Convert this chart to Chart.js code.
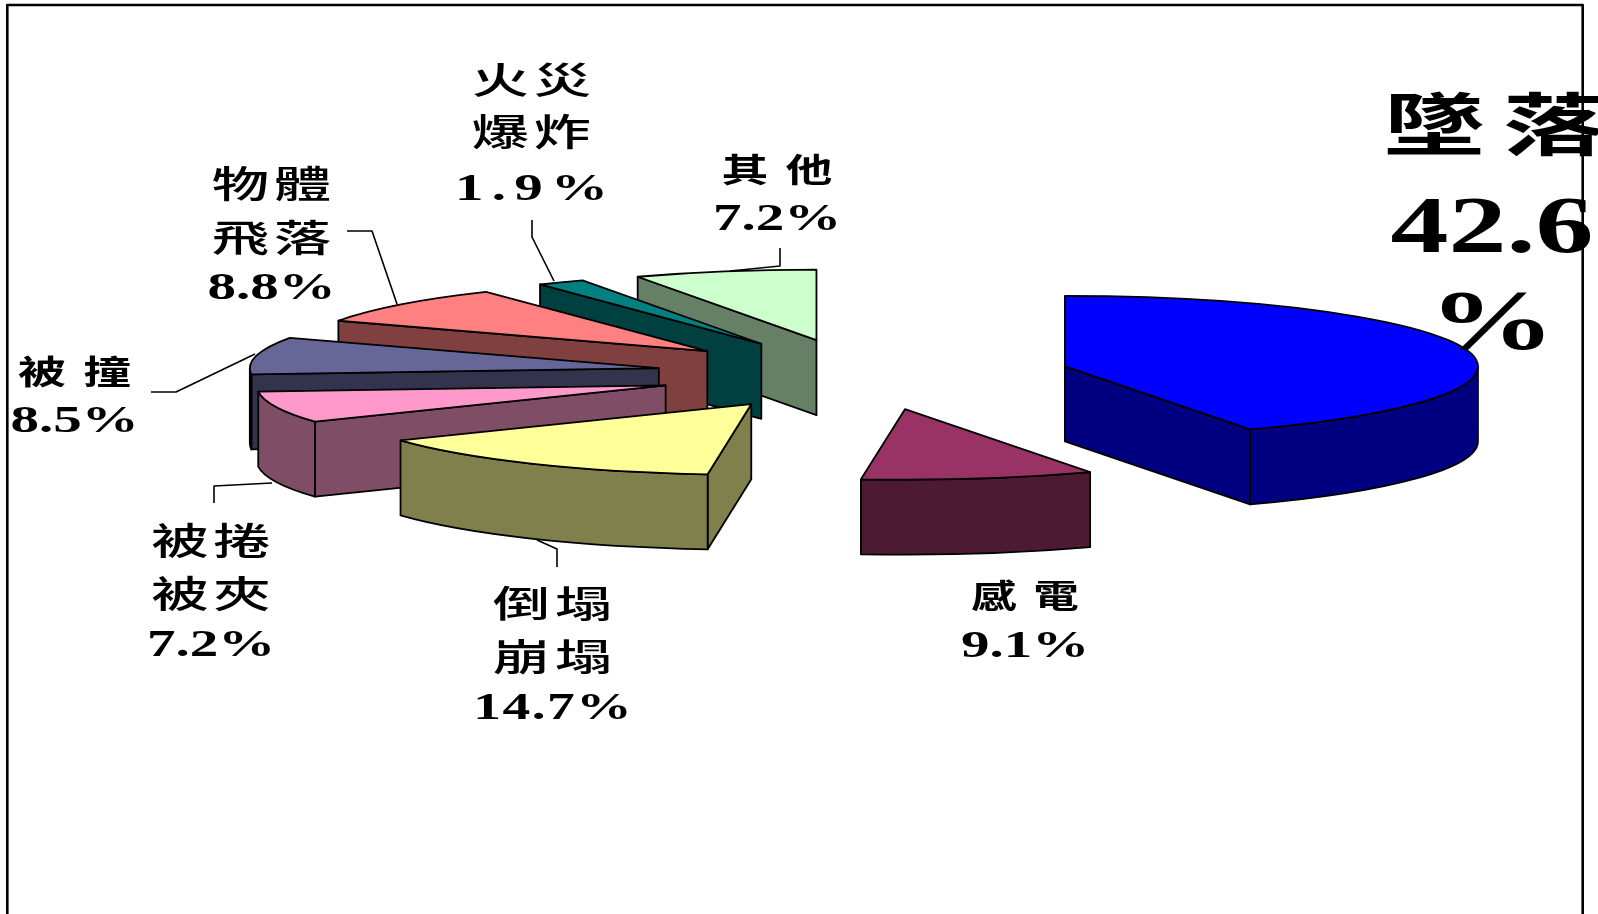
<!DOCTYPE html>
<html>
<head>
<meta charset="utf-8">
<script src="https://cdn.jsdelivr.net/npm/chart.js@4"></script>
<style>
  html, body { margin: 0; padding: 0; background: #fff; overflow: hidden; }
  #box { width: 1598px; height: 914px; position: relative; }
</style>
</head>
<body>
<div id="box"><canvas id="myChart"></canvas></div>
<script>
const categories = ['墜落', '感電', '倒塌\n崩塌', '被捲\n被夾', '被撞', '物體\n飛落', '火災\n爆炸', '其他'];
const percentages = [42.6, 9.1, 14.7, 7.2, 8.5, 8.8, 1.9, 7.2];
const sliceColors = ['#0000FF', '#993366', '#FFFF99', '#FF99CC', '#666699', '#FF8080', '#008080', '#CCFFCC'];
const wallColors = ['#000080', '#4D1A33', '#80804D', '#804D66', '#33334D', '#804040', '#004040', '#668066'];

// the flattened 3D view of the pie, the reference is a bit narrower on its left side
const view = { cx: 863, cy: 374.5, rxRight: 413, rxLeft: 409, ry: 70.5, shiftX: 415, depth: 75 };
const sliceNudgeX = [0, 5, 0, 0, 0, 0, 0, 0];

// label placement per slice: x centre, y of each line, [size, stretch, weight, spacing], [size, stretch, spacing]
const labelLayout = [
  { x: 1494, ys: [126, 252, 349], cjk: [68, 1.5, 700, 12], num: [80, 1.45, 0], splitPercent: true },
  { x: 1025, ys: [596, 657], cjk: [33, 1.38, 700, 12], num: [38, 1.5, 0] },
  { x: 552.5, ys: [605, 658, 719], cjk: [37, 1.55, 500, 3], num: [38, 1.46, 1] },
  { x: 211, ys: [542, 595, 656], cjk: [37, 1.55, 500, 3], num: [38, 1.5, 0] },
  { x: 74.5, ys: [372, 432], cjk: [33, 1.45, 700, 12], num: [38, 1.5, 0] },
  { x: 271.5, ys: [185, 238.5, 299], cjk: [37, 1.55, 500, 3], num: [38, 1.5, 0] },
  { x: 531.5, ys: [81, 133, 200], cjk: [37, 1.55, 500, 3], num: [38, 1.5, 5.5] },
  { x: 777, ys: [170, 230], cjk: [33, 1.42, 700, 12], num: [38, 1.5, 0] }
];

const leaderLines = [
  [[347, 231], [372, 231], [397, 304]],
  [[151, 392], [176, 392], [255, 354]],
  [[532, 220], [532, 237], [554, 281]],
  [[780, 248], [780, 266], [730, 271]],
  [[214, 503], [214, 486], [272, 483]],
  [[557, 567], [557, 549], [537, 540]]
];

function shape(ctx, pts, fill) {
  ctx.beginPath();
  pts.forEach((p, i) => i ? ctx.lineTo(p[0], p[1]) : ctx.moveTo(p[0], p[1]));
  ctx.closePath();
  ctx.fillStyle = fill;
  ctx.fill();
  ctx.stroke();
}

function drawSlice(ctx, arc, index) {
  const sx = view.shiftX / arc.outerRadius;
  const sy = view.ry / arc.outerRadius;
  const mid = (arc.startAngle + arc.endAngle) / 2;
  // Chart.js moves an arc by a quarter of its offset option
  const shift = arc.options.offset / 4;
  const ax = view.cx + Math.cos(mid) * shift * sx + sliceNudgeX[index];
  const ay = view.cy + Math.sin(mid) * shift * sy;
  const rx = Math.cos(mid) > 0 || index === 1 ? view.rxRight : view.rxLeft;
  const rim = a => [ax + Math.cos(a) * rx, ay + Math.sin(a) * view.ry];
  const s = rim(arc.startAngle);
  const e = rim(arc.endAngle);
  const d = view.depth;
  const wall = wallColors[index];

  ctx.strokeStyle = '#000';
  ctx.lineWidth = 1.8;
  ctx.lineJoin = 'round';

  // cut faces that look towards the viewer
  if (s[0] < ax) shape(ctx, [[ax, ay], s, [s[0], s[1] + d], [ax, ay + d]], wall);
  if (e[0] > ax) shape(ctx, [[ax, ay], e, [e[0], e[1] + d], [ax, ay + d]], wall);

  // outer wall, only the front half of the ellipse
  const from = Math.max(arc.startAngle, 0);
  const to = Math.min(arc.endAngle, Math.PI);
  if (to > from) {
    ctx.beginPath();
    ctx.ellipse(ax, ay, rx, view.ry, 0, from, to);
    ctx.ellipse(ax, ay + d, rx, view.ry, 0, to, from, true);
    ctx.closePath();
    ctx.fillStyle = wall;
    ctx.fill();
    ctx.stroke();
  }

  // top face
  ctx.beginPath();
  ctx.moveTo(ax, ay);
  ctx.ellipse(ax, ay, rx, view.ry, 0, arc.startAngle, arc.endAngle);
  ctx.closePath();
  ctx.fillStyle = arc.options.backgroundColor;
  ctx.fill();
  ctx.stroke();
}

function stretchedText(ctx, text, x, y, font, stretch, spacing) {
  const gap = spacing || 0;
  ctx.save();
  ctx.font = font;
  ctx.letterSpacing = gap + 'px';
  ctx.textAlign = 'center';
  ctx.textBaseline = 'alphabetic';
  ctx.fillStyle = '#000';
  // letter spacing also trails the last glyph, so move back by half of it
  ctx.translate(x + gap * stretch / 2, y);
  ctx.scale(stretch, 1);
  ctx.fillText(text, 0, 0);
  ctx.restore();
}

function drawLabels(ctx) {
  categories.forEach((name, i) => {
    const lay = labelLayout[i];
    const cjkLines = name.split('\n');
    const [cSize, cStretch, cWeight, cGap] = lay.cjk;
    const [nSize, nStretch, nGap] = lay.num;
    cjkLines.forEach((line, k) => {
      // ys for the Chinese lines are line centres
      stretchedText(ctx, line, lay.x, lay.ys[k] + cSize * 0.36,
        cWeight + ' ' + cSize + 'px "Noto Sans CJK TC"', cStretch, cGap);
    });
    const numFont = 'bold ' + nSize + 'px "Liberation Serif"';
    const value = percentages[i].toFixed(1);
    if (lay.splitPercent) {
      stretchedText(ctx, value, lay.x - 2, lay.ys[1], numFont, nStretch);
      stretchedText(ctx, '%', lay.x - 2, lay.ys[2], 'bold 84px "Liberation Serif"', 1.5);
    } else {
      stretchedText(ctx, value + '%', lay.x, lay.ys[cjkLines.length], numFont, nStretch, nGap);
    }
  });
}

const pie3d = {
  id: 'pie3d',
  beforeDatasetDraw(chart, args) {
    const ctx = chart.ctx;
    const arcs = args.meta.data;
    // back slices first, the order runs against the clock
    for (let i = arcs.length - 1; i >= 0; i--) drawSlice(ctx, arcs[i], i);
    return false;
  },
  afterDraw(chart) {
    const ctx = chart.ctx;
    ctx.save();
    ctx.strokeStyle = '#000';
    ctx.lineWidth = 2.6;
    ctx.beginPath();
    ctx.moveTo(7.3, 914);
    ctx.lineTo(7.3, 5);
    ctx.lineTo(1582.7, 5);
    ctx.lineTo(1582.7, 914);
    ctx.stroke();
    ctx.lineWidth = 1.6;
    leaderLines.forEach(line => {
      ctx.beginPath();
      line.forEach((p, i) => i ? ctx.lineTo(p[0], p[1]) : ctx.moveTo(p[0], p[1]));
      ctx.stroke();
    });
    drawLabels(ctx);
    ctx.restore();
  }
};

new Chart(document.getElementById('myChart'), {
  type: 'pie',
  data: {
    labels: categories,
    datasets: [{
      data: percentages,
      backgroundColor: sliceColors,
      borderWidth: 0,
      offset: 457
    }]
  },
  options: {
    responsive: true,
    maintainAspectRatio: false,
    animation: false,
    events: [],
    plugins: { legend: { display: false }, tooltip: { enabled: false } }
  },
  plugins: [pie3d]
});
</script>
</body>
</html>
